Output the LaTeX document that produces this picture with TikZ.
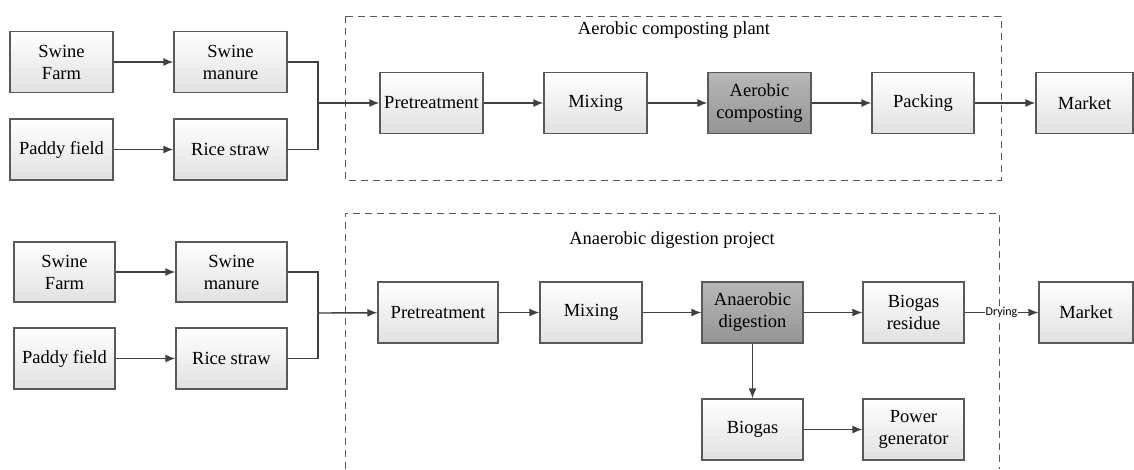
\documentclass[tikz,border=0pt]{standalone}
\usepackage{fontspec}
\setmainfont{Liberation Serif}
\newfontfamily\boxfont{Liberation Serif}
\newfontfamily\dryingfont{Carlito}
\usepackage{tikz}
\usetikzlibrary{positioning,calc,arrows.meta}
\definecolor{boxedge}{HTML}{595959}
\definecolor{arrowgray}{HTML}{404040}
\tikzstyle{block} = [rectangle,draw=boxedge,line width=1.2pt,top color=white,bottom color=black!12,align=center,minimum height=61pt,minimum width=103pt,inner sep=1pt,font=\boxfont\fontsize{18.5}{22}\selectfont]
\tikzstyle{darkblock} = [block,top color=black!28,bottom color=black!42]
\tikzstyle{line} = [-{Latex[length=10pt,width=8pt]},line width=1.4pt,draw=arrowgray]
\tikzstyle{plant} = [dash pattern=on 7pt off 5pt,draw=boxedge,line width=1pt]
\tikzstyle{title} = [font=\boxfont\fontsize{18.5}{22}\selectfont]

\begin{document}
\begin{tikzpicture}[x=1pt,y=-1pt]
        \useasboundingbox (0,0) rectangle (1134,469);
        % aerobic composting plant
        \draw[plant] (345,16) rectangle (1001,180);
        \node[title] (t1) at (674,30) {Aerobic composting plant};
        \node[block] (farm1) at (61.5,62) {Swine\\Farm};
        \node[block,minimum width=113pt] (manure1) at (230.5,62) {Swine\\manure};
        \node[block] (paddy1) at (61.5,149.5) {Paddy field};
        \node[block,minimum width=113pt] (straw1) at (230.5,149.5) {Rice straw};
        \coordinate (j1) at (318,103);
        \node[block] (pre1) at (431.5,103) {Pretreatment};
        \node[block] (mix1) at (595.5,103) {Mixing};
        \node[darkblock] (aer1) at (759.5,103) {Aerobic\\composting};
        \node[block,minimum width=102pt] (pack1) at (923,103) {Packing};
        \node[block,minimum width=97pt] (mkt1) at (1084.5,103) {Market};
        \draw[line] (farm1) -- (manure1);
        \draw[line] (paddy1) -- (straw1);
        \draw[line,-] (manure1.east) -| (j1);
        \draw[line,-] (straw1.east) -| (j1);
        \draw[line] (j1) -- (pre1);
        \draw[line] (pre1) -- (mix1);
        \draw[line] (mix1) -- (aer1);
        \draw[line] (aer1) -- (pack1);
        \draw[line] (pack1) -- (mkt1);
        % anaerobic digestion project
        \draw[plant] (345,469) |- (999,213) -- (999,469);
        \node[title] (t2) at (672,240) {Anaerobic digestion project};
        \node[block,minimum width=101pt,minimum height=60pt] (farm2) at (64.5,272) {Swine\\Farm};
        \node[block,minimum width=111pt,minimum height=60pt] (manure2) at (231.5,272) {Swine\\manure};
        \node[block,minimum width=101pt] (paddy2) at (64.5,358.5) {Paddy field};
        \node[block,minimum width=111pt] (straw2) at (231.5,358.5) {Rice straw};
        \coordinate (j2) at (318,313);
        \node[block,minimum width=120pt] (pre2) at (438,312.5) {Pretreatment};
        \node[block,minimum width=102pt] (mix2) at (591,312.5) {Mixing};
        \node[darkblock,minimum width=101pt] (ana2) at (752.5,312.5) {Anaerobic\\digestion};
        \node[block,minimum width=101pt] (res2) at (913.5,312.5) {Biogas\\residue};
        \node[block,minimum width=94pt] (mkt2) at (1086,312.5) {Market};
        \node[block,minimum width=101pt] (gas2) at (752.5,429.5) {Biogas};
        \node[block,minimum width=101pt] (pow2) at (913.5,429.5) {Power\\generator};
        \draw[line] (farm2) -- (manure2);
        \draw[line] (paddy2) -- (straw2);
        \draw[line,-] (manure2.east) -| (j2);
        \draw[line,-] (straw2.east) -| (j2);
        \draw[line] (j2) -- (pre2);
        \draw[line] (pre2) -- (mix2);
        \draw[line] (mix2) -- (ana2);
        \draw[line] (ana2) -- (res2);
        \draw[line] (res2) -- node[fill=white,inner sep=1pt,font=\dryingfont\fontsize{12}{14}\selectfont] (dry) {Drying} (mkt2);
        \draw[line] (ana2) -- (gas2);
        \draw[line] (gas2) -- (pow2);
    \end{tikzpicture}
\end{document}
